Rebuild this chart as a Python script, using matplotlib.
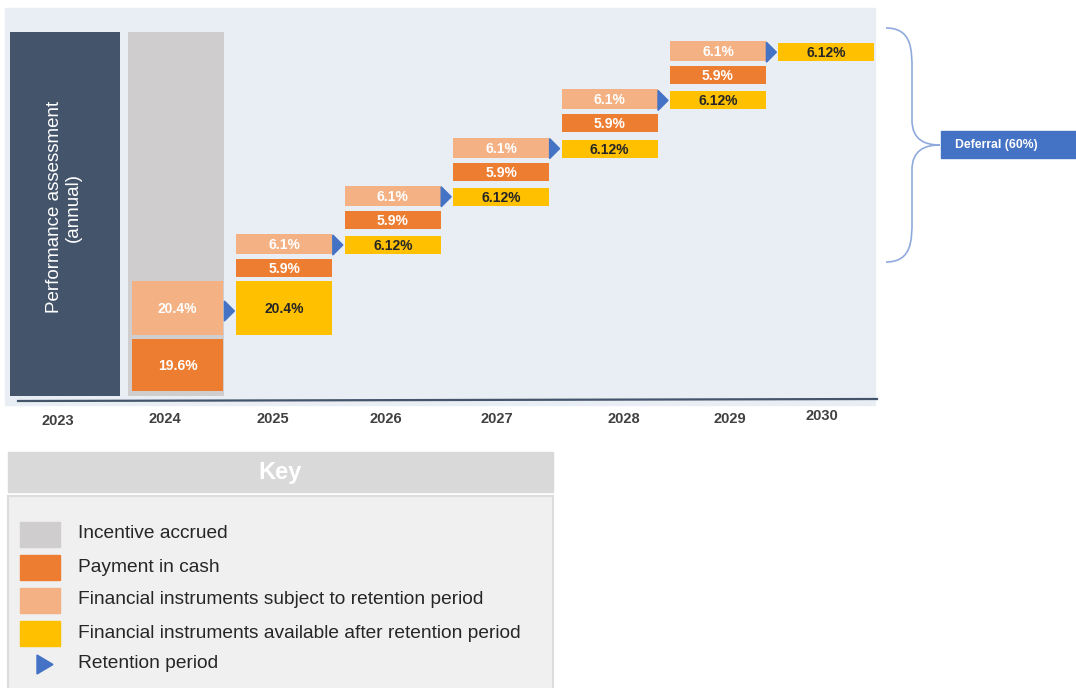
import numpy as np
import matplotlib.pyplot as plt
from matplotlib.patches import Rectangle, Polygon, PathPatch
from matplotlib.path import Path

plt.rcParams['font.family'] = ['Liberation Sans', 'DejaVu Sans']

# data
years = ["2023", "2024", "2025", "2026", "2027", "2028", "2029", "2030"]
cash_pct = [None, 19.6, 5.9, 5.9, 5.9, 5.9, 5.9, None]
retained_pct = [None, 20.4, 6.1, 6.1, 6.1, 6.1, 6.1, None]
available_pct = [None, None, 20.4, 6.12, 6.12, 6.12, 6.12, 6.12]
deferral_label = "Deferral (60%)"
key_labels = [
    "Incentive accrued",
    "Payment in cash",
    "Financial instruments subject to retention period",
    "Financial instruments available after retention period",
    "Retention period",
]

# colours
navy = "#44546a"
grey = "#cfcdcd"
orange = "#ed7d31"
light_orange = "#f4b183"
yellow = "#ffc000"
blue = "#4472c4"
bg = "#e9edf4"

fig = plt.figure(figsize=(10.76, 6.88), dpi=100)
ax = fig.add_axes([0, 0, 1, 1])
ax.set_xlim(0, 1076)
ax.set_ylim(688, 0)
ax.axis("off")

# layout (pixels)
col_step = 108.4
col_w = 96
def col_left(i):
    return 128 + (i - 1) * col_step

row_step = 48.2
def light_top(i):
    return 234 - (i - 2) * row_step

# chart background and baseline
ax.add_patch(Rectangle((5, 8), 870, 397, color=bg, zorder=0))
ax.plot([18, 877], [401, 399], color="#44546a", lw=1.6, zorder=1)

# performance assessment column
ax.bar(10 + 55, 364, bottom=32, width=110, color=navy, zorder=2)
ax.text(64, 207, "Performance assessment\n(annual)", rotation=90, color="white",
        fontsize=13.5, ha="center", va="center", linespacing=1.1, zorder=3)

# incentive accrued column
ax.bar(col_left(1) + col_w / 2, 364, bottom=32, width=col_w, color=grey, zorder=2)

def block(x, top, h, w, color, val, txt_color):
    ax.bar(x + w / 2, h, bottom=top, width=w, color=color, zorder=3)
    if val is not None:
        s = ("%.2f%%" % val) if round(val, 1) != val else ("%.1f%%" % val)
        ax.text(x + w / 2, top + h / 2 + 1, s, color=txt_color, fontsize=10,
                fontweight="bold", ha="center", va="center", zorder=4)

def arrow(x, yc):
    ax.add_patch(Polygon([[x, yc - 10], [x, yc + 10], [x + 10, yc]],
                         closed=True, color=blue, zorder=4))

# 2024 split
block(col_left(1) + 4, 281, 54, 91, light_orange, retained_pct[1], "white")
block(col_left(1) + 4, 339, 52, 91, orange, cash_pct[1], "white")
arrow(col_left(2) - 12, 311)

# 2025 - 2030
for i in range(2, len(years)):
    x = col_left(i)
    if retained_pct[i] is not None:
        lt = light_top(i)
        block(x, lt, 20, col_w, light_orange, retained_pct[i], "white")
        block(x, lt + 25, 18, col_w, orange, cash_pct[i], "white")
    if available_pct[i] is not None:
        if i == 2:
            block(x, 281, 54, col_w, yellow, available_pct[i], "#262626")
        else:
            yt = light_top(i - 1) + 2
            block(x, yt, 18, col_w, yellow, available_pct[i], "#262626")
            arrow(x - 12, yt + 9)

# year labels
label_x = [58, 165, 273, 386, 497, 624, 730, 822]
label_y = [421, 419, 419, 419, 419, 419, 419, 416]
for lx, ly, yr in zip(label_x, label_y, years):
    ax.text(lx, ly, yr, fontsize=10.5, fontweight="bold", color="#404040",
            ha="center", va="center")

# brace
verts = [(886, 28), (912, 28), (912, 50), (912, 70),
         (912, 120),
         (912, 140), (925, 145), (940, 145),
         (925, 145), (912, 150), (912, 170),
         (912, 220),
         (912, 240), (912, 262), (886, 262)]
codes = [Path.MOVETO, Path.CURVE4, Path.CURVE4, Path.CURVE4,
         Path.LINETO,
         Path.CURVE4, Path.CURVE4, Path.CURVE4,
         Path.CURVE4, Path.CURVE4, Path.CURVE4,
         Path.LINETO,
         Path.CURVE4, Path.CURVE4, Path.CURVE4]
ax.add_patch(PathPatch(Path(verts, codes), fill=False, edgecolor="#8faadc", lw=1.2))

# deferral box
ax.add_patch(Rectangle((941, 131), 140, 27, color=blue, zorder=2))
ax.text(955, 145, deferral_label, color="white", fontsize=8.8, fontweight="bold",
        ha="left", va="center", zorder=3)

# key
ax.add_patch(Rectangle((8, 452), 545, 40, color="#d9d9d9", zorder=1))
ax.text(280, 473, "Key", color="white", fontsize=17, fontweight="bold",
        ha="center", va="center", zorder=2)
ax.add_patch(Rectangle((8, 496), 545, 200, facecolor="#f0f0f0",
                       edgecolor="#dcdcdc", lw=1.5, zorder=1))

key_colors = [grey, orange, light_orange, yellow]
key_y = [534, 567, 600, 633, 664]
for c, yk in zip(key_colors, key_y):
    ax.add_patch(Rectangle((20, yk - 12.5), 40, 25, color=c, zorder=2))
ax.add_patch(Polygon([[37, 655], [37, 674], [53, 664.5]], closed=True,
                     color=blue, zorder=2))
for lab, yk in zip(key_labels, key_y):
    ax.text(78, yk, lab, fontsize=13.8, color="#262626",
            ha="left", va="center", zorder=2)

fig.savefig("out.png", dpi=100)
